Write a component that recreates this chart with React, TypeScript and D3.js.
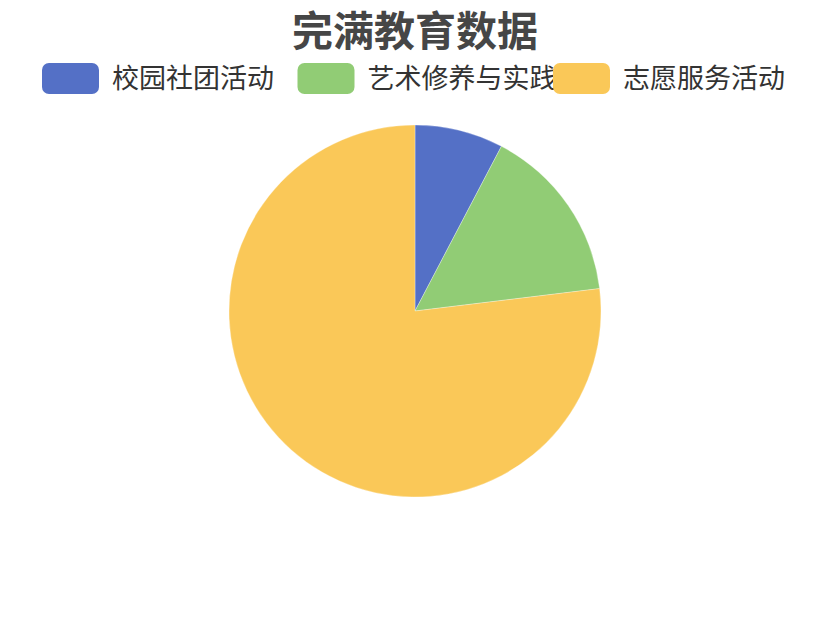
import * as d3 from "d3";
import { useEffect, useRef } from "react";

const title = "完满教育数据";
const categories = ["校园社团活动", "艺术修养与实践", "志愿服务活动"];
const values = [1, 2, 10];
const colors = ["#5470c6", "#91cc75", "#fac858"];

export default function App() {
  const svgRef = useRef<SVGSVGElement>(null);
  const width = 830;
  const height = 623;

  useEffect(() => {
    const svg = d3.select(svgRef.current);
    svg.selectAll("*").remove();
    const font = "'Noto Sans CJK SC', 'Noto Sans', sans-serif";

    svg.append("rect").attr("width", width).attr("height", height).attr("fill", "#fff");

    // title
    svg
      .append("text")
      .attr("x", 415)
      .attr("y", 46)
      .attr("text-anchor", "middle")
      .attr("font-family", font)
      .attr("font-weight", "bold")
      .attr("font-size", 41)
      .attr("fill", "#464646")
      .text(title);

    // pie
    const data = categories.map((c, i) => ({ name: c, value: values[i] }));
    const pie = d3
      .pie<{ name: string; value: number }>()
      .sort(null)
      .value((d) => d.value);
    const arc = d3
      .arc<d3.PieArcDatum<{ name: string; value: number }>>()
      .innerRadius(0)
      .outerRadius(186);
    const color = d3.scaleOrdinal<string, string>().domain(categories).range(colors);

    svg
      .append("g")
      .attr("transform", "translate(415,311)")
      .selectAll("path")
      .data(pie(data))
      .enter()
      .append("path")
      .attr("d", arc)
      .attr("fill", (d) => color(d.data.name))
      .attr("stroke", "#fff")
      .attr("stroke-width", 0.5)
      .attr("stroke-opacity", 0.6);

    // legend (items overlap as in the original)
    const legendX = d3.scalePoint<string>().domain(categories).range([42, 553]);
    const lg = svg.append("g");
    categories.forEach((c) => {
      const x = legendX(c)!;
      lg.append("rect")
        .attr("x", x)
        .attr("y", 63)
        .attr("width", 57)
        .attr("height", 31)
        .attr("rx", 7)
        .attr("fill", color(c));
      lg.append("text")
        .attr("x", x + 70)
        .attr("y", 79)
        .attr("dy", "0.35em")
        .attr("font-family", font)
        .attr("font-size", 27)
        .attr("fill", "#333")
        .text(c);
    });
  }, []);

  return (
    <div style={{ position: "absolute", left: 0, top: 0, width, height, background: "#fff" }}>
      <svg ref={svgRef} width={width} height={height} style={{ display: "block" }}></svg>
    </div>
  );
}
